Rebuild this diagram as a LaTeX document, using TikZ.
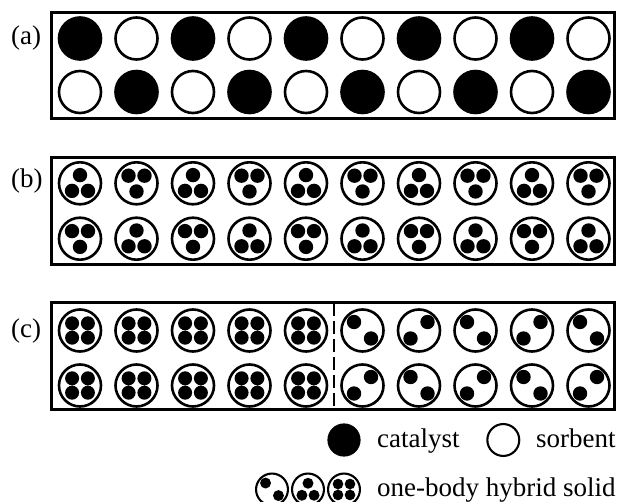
\documentclass[tikz,border=0pt]{standalone}
\usepackage{fontspec}
\setmainfont{Liberation Serif}
\begin{document}
\begin{tikzpicture}[x=1pt,y=-1pt,
  frame/.style={line width=3pt},
  ring/.style={line width=2.6pt},
  divider/.style={line width=2.3pt, dash pattern=on 13pt off 5pt},
  lbl/.style={font=\fontsize{27}{30}\selectfont, inner sep=0pt},
  pics/cat/.style={code={\filldraw[ring] (0,0) circle[radius=21pt];}},
  pics/sorb/.style={code={\draw[ring] (0,0) circle[radius=21pt];}},
  pics/hsup/.style={code={\draw[ring] (0,0) circle[radius=21pt];
     \fill (0,-8.2) circle[radius=7.2pt] (-8,7.6) circle[radius=7.2pt] (8,7.6) circle[radius=7.2pt];}},
  pics/hsdown/.style={code={\draw[ring] (0,0) circle[radius=21pt];
     \fill (0,8.2) circle[radius=7.2pt] (-8,-7.6) circle[radius=7.2pt] (8,-7.6) circle[radius=7.2pt];}},
  pics/hsfour/.style={code={\draw[ring] (0,0) circle[radius=21pt];
     \fill (-7.9,-7.2) circle[radius=7pt] (7.9,-7.2) circle[radius=7pt] (-7.9,7.2) circle[radius=7pt] (7.9,7.2) circle[radius=7pt];}},
  pics/hsbs/.style={code={\draw[ring] (0,0) circle[radius=21pt];
     \fill (-8.5,-8.5) circle[radius=7.2pt] (8.5,8) circle[radius=7.2pt];}},
  pics/hsfs/.style={code={\draw[ring] (0,0) circle[radius=21pt];
     \fill (8.5,-8.5) circle[radius=7.2pt] (-8.5,8) circle[radius=7.2pt];}}
]
\useasboundingbox (0,0) rectangle (618,502);

% panel frames
\draw[frame] (51.5,12.5) rectangle (614.5,118.5);
\draw[frame] (51.5,158) rectangle (614.5,264.5);
\draw[frame] (51.5,303) rectangle (614.5,409);

% labels
\node[lbl, anchor=west] (la) at (11,38) {(a)};
\node[lbl, anchor=west] (lb) at (11,181) {(b)};
\node[lbl, anchor=west] (lc) at (11,331) {(c)};

% panel (a)
\foreach \i in {0,2,4,6,8} {
  \pic at ({80+56.5*\i},38.5) {cat};
  \pic at ({80+56.5*(\i+1)},38.5) {sorb};
  \pic at ({80+56.5*\i},92) {sorb};
  \pic at ({80+56.5*(\i+1)},92) {cat};
}

% panel (b)
\foreach \i in {0,2,4,6,8} {
  \pic at ({80+56.5*\i},183.3) {hsup};
  \pic at ({80+56.5*(\i+1)},183.3) {hsdown};
  \pic at ({80+56.5*\i},238.7) {hsdown};
  \pic at ({80+56.5*(\i+1)},238.7) {hsup};
}

% panel (c)
\foreach \i in {0,...,4} {
  \pic at ({80+56.5*\i},330.5) {hsfour};
  \pic at ({80+56.5*\i},385.5) {hsfour};
}
\foreach \i in {5,7,9} {
  \pic at ({80+56.5*\i},330.5) {hsbs};
  \pic at ({80+56.5*\i},385.5) {hsfs};
}
\foreach \i in {6,8} {
  \pic at ({80+56.5*\i},330.5) {hsfs};
  \pic at ({80+56.5*\i},385.5) {hsbs};
}
\coordinate (dtop) at (334,303);
\coordinate (dbot) at (334,409);
\draw[divider] (dtop) -- (dbot);

% legend
\begin{scope}[ring/.style={line width=2.1pt}]
  \pic[scale=0.74] at (344,440) {cat};
  \pic[scale=0.76] at (503.3,440) {sorb};
  \pic[scale=0.76] at (272,489.5) {hsbs};
  \pic[scale=0.76] at (308,489.5) {hsup};
  \pic[scale=0.76] at (344,489.5) {hsfour};
\end{scope}
\node[lbl, anchor=base west] (tcat) at (377,447) {catalyst};
\node[lbl, anchor=base west] (tsorb) at (536,447) {sorbent};
\node[lbl, anchor=base west] (thyb) at (377,496.5) {one-body hybrid solid};
\end{tikzpicture}
\end{document}
